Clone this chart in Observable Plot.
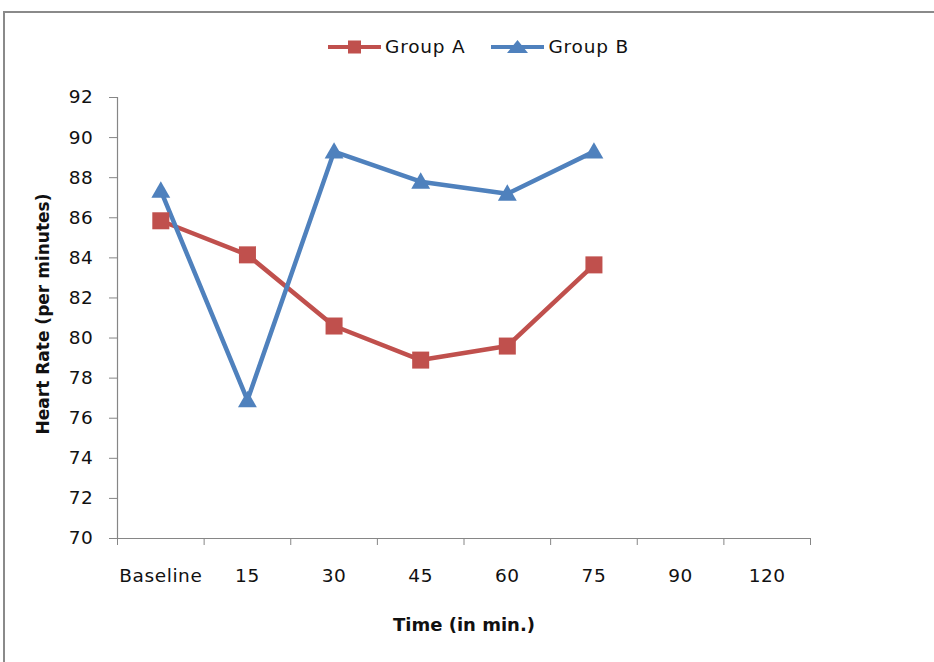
<!DOCTYPE html>
<html>
<head>
<meta charset="utf-8">
<script src="https://cdn.jsdelivr.net/npm/d3@7"></script>
<script src="https://cdn.jsdelivr.net/npm/@observablehq/plot@0.6"></script>
<style>
  html, body { margin: 0; padding: 0; background: #fff; overflow: hidden; width: 934px; height: 662px; }
  body { position: relative; font-family: "DejaVu Sans", sans-serif; color: #111; }
  #frame { position: absolute; left: 3px; top: 11px; width: 2000px; height: 2000px;
           border-left: 2px solid #8a8a8a; border-top: 2px solid #8a8a8a; pointer-events: none; }
  #legend { position: relative; height: 70px; }
  #legend .items { position: absolute; left: 328px; top: 35px; display: flex; align-items: center; gap: 26px;
                   font-size: 18.5px; letter-spacing: 0.8px; line-height: 24px; }
  #legend .item { display: flex; align-items: center; gap: 4px; }
  #chart svg text { letter-spacing: 0.6px; }
</style>
</head>
<body>
<div id="frame"></div>
<div id="legend"><div class="items"></div></div>
<div id="chart"></div>
<script>
// ---- data ----
const categories = ["Baseline", "15", "30", "45", "60", "75", "90", "120"];
const seriesNames = ["Group A", "Group B"];
const groupA = [85.85, 84.15, 80.6, 78.9, 79.6, 83.65];
const groupB = [87.35, 76.9, 89.3, 87.8, 87.2, 89.3];
const yTicks = [70, 72, 74, 76, 78, 80, 82, 84, 86, 88, 90, 92];
const colors = ["#C0504D", "#4F81BD"];
const xTitle = "Time (in min.)";
const yTitle = "Heart Rate (per minutes)";

// ---- table ----
const rowsA = groupA.map((v, i) => ({time: categories[i], group: seriesNames[0], hr: v}));
const rowsB = groupB.map((v, i) => ({time: categories[i], group: seriesNames[1], hr: v}));
const rows = rowsA.concat(rowsB);
const pos = d => categories.indexOf(d.time) + 0.5;

// ---- legend ----
const items = d3.select("#legend .items");
seriesNames.forEach((name, k) => {
  const it = items.append("div").attr("class", "item");
  const s = it.append("svg").attr("width", 53).attr("height", 20);
  s.append("line").attr("x1", 0).attr("x2", 53).attr("y1", 10).attr("y2", 10)
    .attr("stroke", colors[k]).attr("stroke-width", 4);
  if (k === 0) {
    s.append("rect").attr("x", 20).attr("y", 3.5).attr("width", 13).attr("height", 13).attr("fill", colors[k]);
  } else {
    s.append("path").attr("d", "M26.5,3 L37,16 L16,16 Z").attr("fill", colors[k]);
  }
  it.append("span").text(name);
});

// ---- chart ----
const chart = Plot.plot({
  width: 934,
  height: 592,
  marginLeft: 117,
  marginRight: 124,
  marginTop: 27,
  marginBottom: 124,
  style: {fontFamily: "DejaVu Sans", fontSize: "18.5px", color: "#111", background: "transparent", overflow: "visible"},
  x: {type: "linear", domain: [0, categories.length], axis: null},
  y: {domain: [70, 92], axis: null},
  color: {domain: seriesNames, range: colors},
  marks: [
    Plot.axisY({ticks: yTicks, tickSize: 8, tickPadding: 16, stroke: "#868686", label: null, fontSize: 18.5, tickFormat: d => String(d)}),
    Plot.axisX({ticks: d3.range(categories.length + 1), tickSize: 7, tickFormat: () => "", stroke: "#868686", label: null}),
    Plot.axisX({ticks: categories.map((c, i) => i + 0.5), tickSize: 0, tickPadding: 30, fontSize: 18.5,
                tickFormat: v => categories[Math.floor(v)], label: null}),
    Plot.ruleX([0], {stroke: "#868686", strokeWidth: 1.2}),
    Plot.ruleY([70], {stroke: "#868686", strokeWidth: 1.2}),
    Plot.line(rows, {x: pos, y: "hr", z: "group", stroke: "group", strokeWidth: 4.5, strokeLinejoin: "round"}),
    Plot.dot(rowsA, {x: pos, y: "hr", symbol: "square", r: 9.6, fill: colors[0]}),
    Plot.dot(rowsB, {x: pos, y: "hr", symbol: "triangle", r: 7, fill: colors[1], dy: 1.5}),
    Plot.text([xTitle], {text: d => d, frameAnchor: "bottom", dy: 92, fontSize: 18, fontWeight: "bold", fill: "#111"}),
    Plot.text([yTitle], {text: d => d, frameAnchor: "left", textAnchor: "middle", dx: -74, dy: -4, rotate: -90, fontSize: 17, fontWeight: "bold", fill: "#111"})
  ]
});
document.getElementById("chart").appendChild(chart);
d3.select(chart).selectAll("text").filter(function() { return this.textContent === yTitle || this.textContent === xTitle; })
  .style("letter-spacing", "0px");
</script>
</body>
</html>
